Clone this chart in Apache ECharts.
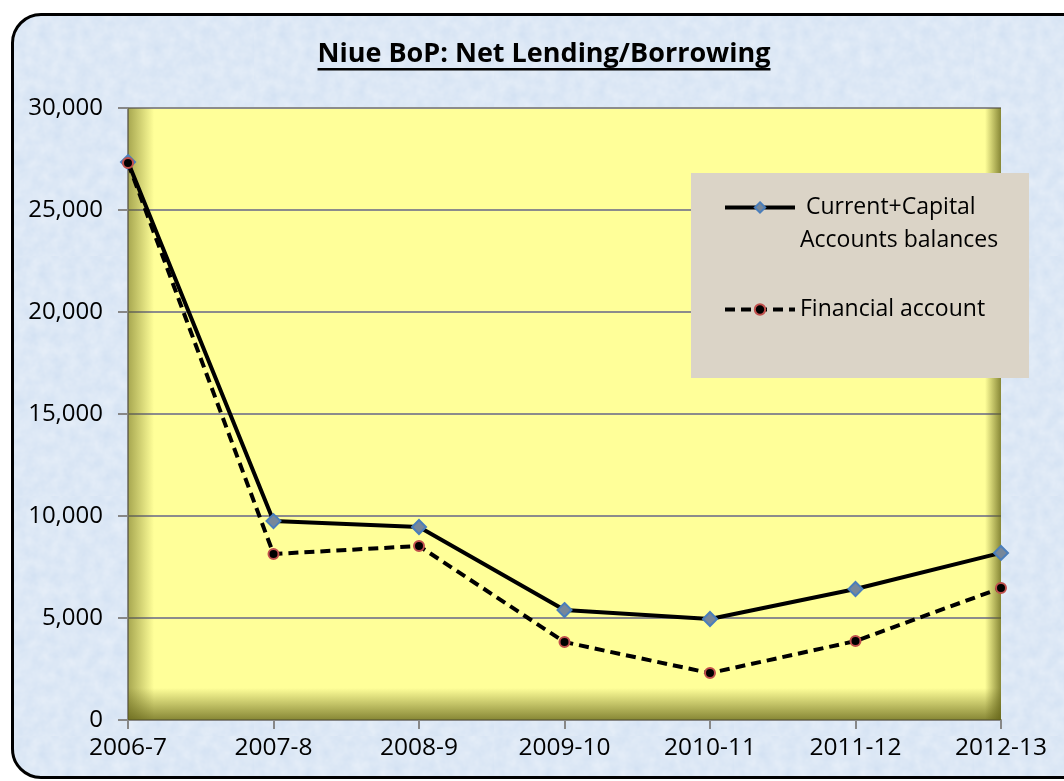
<!DOCTYPE html>
<html>
<head>
<meta charset="utf-8">
<script src="https://cdn.jsdelivr.net/npm/echarts@6/dist/echarts.min.js"></script>
<style>
  html, body { margin: 0; padding: 0; background: #fff; }
  .frame {
    position: absolute; left: 11px; top: 13px; width: 1090px; height: 760px;
    border: 3px solid #000; border-radius: 30px;
    background-color: #d4e2f3;
    background-image: url("data:image/svg+xml;utf8,<svg xmlns='http://www.w3.org/2000/svg' width='240' height='240'><filter id='n'><feTurbulence type='fractalNoise' baseFrequency='0.08' numOctaves='3'/><feColorMatrix values='0 0 0 0 1  0 0 0 0 1  0 0 0 0 1  0 0 0 0.5 -0.05'/></filter><rect width='100%' height='100%' filter='url(%23n)'/></svg>");
  }
  #chart { position: absolute; left: 0; top: 0; width: 1064px; height: 781px; }
</style>
</head>
<body>
<div class="frame"></div>
<div id="chart"></div>
<script>
const categories = ['2006-7', '2007-8', '2008-9', '2009-10', '2010-11', '2011-12', '2012-13']
const currentCapital = [27350, 9750, 9460, 5390, 4950, 6420, 8190]
const financialAccount = [27300, 8140, 8530, 3820, 2300, 3870, 6470]
const yTicks = { min: 0, max: 30000, interval: 5000 }

const titleText = 'Niue BoP: Net Lending/Borrowing'
const font = '"Open Sans", "Noto Sans", sans-serif'
const titleFont = 'bold 27px ' + font

// plot area in pixels
const grid = { left: 128, top: 108, right: 63, bottom: 61 }
const gx = grid.left
const gy = grid.top
const gw = 1064 - grid.left - grid.right
const gh = 781 - grid.top - grid.bottom

const measure = document.createElement('canvas').getContext('2d')
measure.font = titleFont
const titleW = measure.measureText(titleText).width

const chart = echarts.init(document.getElementById('chart'))

const shade = (x, y, w, h, x2, y2, dark) => ({
  type: 'rect',
  z: 1,
  silent: true,
  shape: { x, y, width: w, height: h },
  style: {
    fill: new echarts.graphic.LinearGradient(0, 0, x2, y2, [
      { offset: 0, color: dark ? 'rgba(95,95,20,0)' : 'rgba(95,95,20,0.55)' },
      { offset: 1, color: dark ? 'rgba(95,95,20,0.75)' : 'rgba(95,95,20,0)' }
    ])
  }
})

chart.setOption({
  animation: false,
  textStyle: { fontFamily: font },
  grid: {
    left: grid.left,
    top: grid.top,
    right: grid.right,
    bottom: grid.bottom,
    show: true,
    borderWidth: 0,
    backgroundColor: '#ffff99'
  },
  graphic: [
    shade(gx, gy, 26, gh, 1, 0, false),
    shade(gx, gy + gh - 32, gw, 32, 0, 1, true),
    shade(gx + gw - 16, gy, 16, gh, 1, 0, true),
    {
      type: 'rect',
      z: 5,
      silent: true,
      shape: { x: 691, y: 173, width: 338, height: 205 },
      style: { fill: '#dbd4c7' }
    },
    {
      type: 'text',
      z: 5,
      style: {
        text: titleText,
        font: titleFont,
        fill: '#000',
        x: 544,
        y: 54,
        align: 'center',
        verticalAlign: 'middle'
      }
    },
    {
      type: 'rect',
      z: 5,
      shape: { x: 544 - titleW / 2, y: 68, width: titleW, height: 2.5 },
      style: { fill: '#000' }
    }
  ],
  legend: {
    orient: 'vertical',
    left: 723,
    top: 158,
    padding: 0,
    itemWidth: 70,
    itemHeight: 13,
    itemGap: 36,
    z: 6,
    lineStyle: { width: 4 },
    textStyle: { fontSize: 23, color: '#000', lineHeight: 33 },
    formatter: name => name === 'Current+Capital Accounts balances'
      ? '\n Current+Capital\nAccounts balances'
      : name
  },
  xAxis: {
    type: 'category',
    data: categories,
    boundaryGap: false,
    axisLine: { lineStyle: { color: '#878787', width: 2 } },
    axisTick: { show: true, length: 9, lineStyle: { color: '#878787', width: 2 } },
    axisLabel: { color: '#000', fontSize: 24.5, margin: 16 }
  },
  yAxis: {
    type: 'value',
    min: yTicks.min,
    max: yTicks.max,
    interval: yTicks.interval,
    axisLine: { show: true, lineStyle: { color: '#878787', width: 2 } },
    axisTick: { show: true, length: 10, lineStyle: { color: '#878787', width: 2 } },
    axisLabel: {
      color: '#000',
      fontSize: 24,
      margin: 25,
      formatter: v => v.toLocaleString('en-US')
    },
    splitLine: { lineStyle: { color: '#8c8c8c', width: 2 } }
  },
  series: [
    {
      name: 'Current+Capital Accounts balances',
      type: 'line',
      data: currentCapital,
      symbol: 'diamond',
      symbolSize: 14,
      z: 3,
      lineStyle: { color: '#000', width: 4 },
      itemStyle: { color: '#76879a', borderColor: '#4a7ebb', borderWidth: 2 }
    },
    {
      name: 'Financial account',
      type: 'line',
      data: financialAccount,
      symbol: 'circle',
      symbolSize: 10,
      z: 4,
      lineStyle: { color: '#000', width: 4, type: [10, 6] },
      itemStyle: { color: '#000', borderColor: '#c0504d', borderWidth: 2 }
    }
  ]
})
</script>
</body>
</html>
